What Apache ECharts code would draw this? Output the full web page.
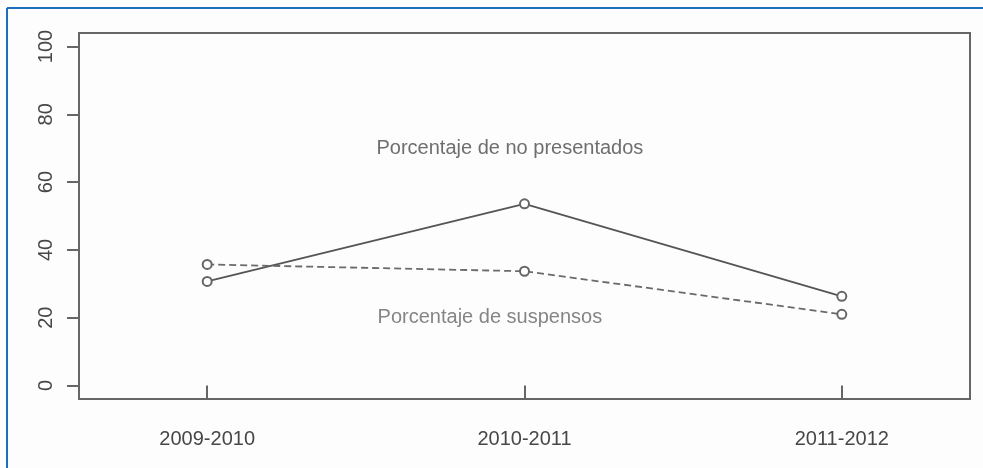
<!DOCTYPE html>
<html>
<head>
<meta charset="utf-8">
<title>Porcentaje de no presentados y suspensos</title>
<script src="https://cdn.jsdelivr.net/npm/echarts@6/dist/echarts.min.js"></script>
<style>
    html, body { margin: 0; padding: 0; background: #fdfdfd; }
    /* 图表容器 */
    #chart { width: 983px; height: 468px; }
</style>
</head>
<body>
<div id="chart"></div>
<script>
// datos
var cursos = ['2009-2010', '2010-2011', '2011-2012'];
var noPresentados = [30.7, 53.6, 26.3];
var suspensos = [35.7, 33.7, 21.0];
var yTicks = [0, 20, 40, 60, 80, 100];

// textos dentro del grafico
var annoText = ['Porcentaje de no presentados', 'Porcentaje de suspensos'];
var annoX = [1.954, 1.891];
var annoY = [70, 20];
var annoColor = ['#4a4a4a', '#666'];

var FONT = 'Arial, "Liberation Sans", sans-serif';
var xTicks = cursos.map(function (c, i) { return i + 1; });

function toPoints(arr) {
    return arr.map(function (v, i) { return [i + 1, v]; });
}

var chart = echarts.init(document.getElementById('chart'));

var option = {
    backgroundColor: '#fdfdfd',
    animation: false,
    // marco azul
    graphic: [
        { type: 'line', shape: { x1: 7, y1: 8, x2: 983, y2: 8 }, style: { stroke: '#1f6fbf', lineWidth: 2 } },
        { type: 'line', shape: { x1: 7, y1: 8, x2: 7, y2: 468 }, style: { stroke: '#1f6fbf', lineWidth: 2 } }
    ],
    grid: {
        left: 79, top: 33, right: 13, bottom: 69,
        show: true,
        borderColor: '#666',
        borderWidth: 2,
        backgroundColor: 'transparent'
    },
    xAxis: {
        type: 'value',
        min: 0.596,
        max: 3.404,
        axisLine: { show: false },
        splitLine: { show: false },
        axisTick: {
            show: true, inside: false, length: 13,
            customValues: xTicks,
            lineStyle: { color: '#666', width: 2 }
        },
        axisLabel: {
            customValues: xTicks,
            margin: 30,
            fontSize: 20,
            fontFamily: FONT,
            color: '#474747',
            formatter: function (v) { return cursos[Math.round(v) - 1] || ''; }
        }
    },
    yAxis: {
        type: 'value',
        min: -4,
        max: 104,
        axisLine: { show: false },
        splitLine: { show: false },
        axisTick: {
            show: true, inside: false, length: 12,
            customValues: yTicks,
            lineStyle: { color: '#666', width: 2 }
        },
        axisLabel: {
            customValues: yTicks,
            rotate: 90,
            margin: 23,
            fontSize: 20,
            fontFamily: FONT,
            color: '#474747'
        }
    },
    series: [
        {
            name: 'no presentados',
            type: 'line',
            data: toPoints(noPresentados),
            symbol: 'emptyCircle',
            symbolSize: 9,
            lineStyle: { color: '#555', width: 1.8, type: 'solid' },
            itemStyle: { color: '#666', borderWidth: 1.5 }
        },
        {
            name: 'suspensos',
            type: 'line',
            data: toPoints(suspensos),
            symbol: 'emptyCircle',
            symbolSize: 9,
            lineStyle: { color: '#6a6a6a', width: 1.8, type: [7, 4] },
            itemStyle: { color: '#666', borderWidth: 1.5 }
        },
        {
            name: 'textos',
            type: 'scatter',
            symbolSize: 0,
            silent: true,
            data: annoText.map(function (t, i) {
                return {
                    name: t,
                    value: [annoX[i], annoY[i]],
                    label: { color: annoColor[i] }
                };
            }),
            label: {
                show: true,
                position: 'inside',
                formatter: '{b}',
                fontSize: 20,
                fontFamily: FONT
            }
        }
    ]
};

chart.setOption(option);
</script>
</body>
</html>
